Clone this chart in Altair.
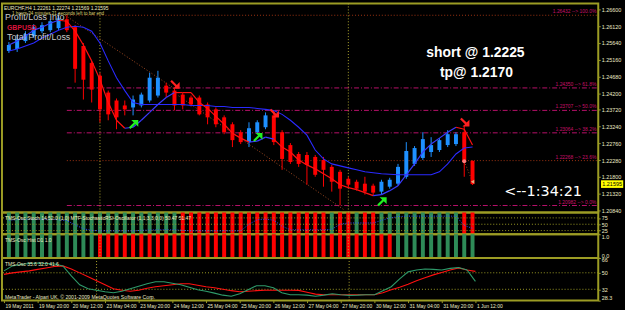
import altair as alt
import pandas as pd

# ------------------------------------------------------------------ data
# H4 bars, index 0 = 19 May 2011 04:00 ... index 56 = 1 Jun 2011 12:00
bar_index = list(range(57))

opens = [1.25409, 1.25466, 1.25692, 1.25834, 1.25976, 1.26005, 1.26061, 1.26317, 1.26090, 1.25551,
         1.25068, 1.24700, 1.24217, 1.23990, 1.23848, 1.23791, 1.23848, 1.23990, 1.24132, 1.24416,
         1.24274, 1.24160, 1.24075, 1.24075, 1.23876, 1.23735, 1.23508, 1.23309, 1.23082, 1.22798,
         1.23082, 1.23224, 1.23564, 1.23082, 1.22713, 1.22458, 1.22429, 1.22373, 1.22287, 1.22089,
         1.21947, 1.21748, 1.21663, 1.21607, 1.21550, 1.21380, 1.21521, 1.21607, 1.21805, 1.22174,
         1.22344, 1.22515, 1.22571, 1.22713, 1.22742, 1.23082, 1.22261]
highs = [1.25664, 1.25863, 1.25976, 1.26175, 1.26232, 1.26317, 1.26430, 1.26430, 1.26147, 1.25636,
         1.25125, 1.24785, 1.24274, 1.24047, 1.23990, 1.24132, 1.24217, 1.24785, 1.24841, 1.24501,
         1.24331, 1.24217, 1.24132, 1.24132, 1.23933, 1.23791, 1.23564, 1.23366, 1.23139, 1.23366,
         1.23423, 1.23649, 1.23706, 1.23139, 1.22770, 1.22515, 1.22515, 1.22429, 1.22373, 1.22145,
         1.22004, 1.21805, 1.21720, 1.21805, 1.21607, 1.21720, 1.21777, 1.22174, 1.22798, 1.22685,
         1.23082, 1.22940, 1.22912, 1.23139, 1.23082, 1.23281, 1.22274]
lows = [1.25352, 1.25380, 1.25636, 1.25778, 1.25920, 1.25948, 1.26005, 1.25948, 1.24501, 1.24018,
        1.23933, 1.23366, 1.23423, 1.23167, 1.23564, 1.23564, 1.23791, 1.23933, 1.24075, 1.24075,
        1.23706, 1.23735, 1.23820, 1.23564, 1.23309, 1.23224, 1.23025, 1.22656, 1.22742, 1.22656,
        1.23025, 1.23167, 1.22713, 1.22004, 1.22174, 1.22089, 1.21578, 1.21805, 1.21521, 1.21380,
        1.20982, 1.21493, 1.21408, 1.21294, 1.21266, 1.21294, 1.21465, 1.21550, 1.21748, 1.22117,
        1.22287, 1.22373, 1.22515, 1.22656, 1.22685, 1.21805, 1.21569]
closes = [1.25579, 1.25749, 1.25891, 1.26090, 1.26147, 1.26260, 1.26345, 1.26005, 1.24898, 1.24586,
          1.24302, 1.23735, 1.23593, 1.23508, 1.23735, 1.24018, 1.24160, 1.24643, 1.24643, 1.24217,
          1.23848, 1.23848, 1.23876, 1.23593, 1.23508, 1.23309, 1.23082, 1.22855, 1.22798, 1.23196,
          1.23366, 1.23564, 1.22798, 1.22316, 1.22230, 1.22174, 1.22145, 1.21862, 1.22004, 1.21663,
          1.21465, 1.21578, 1.21465, 1.21380, 1.21351, 1.21663, 1.21720, 1.22089, 1.22543, 1.22628,
          1.22884, 1.22713, 1.22855, 1.23025, 1.23025, 1.22230, 1.21595]

# slow moving average (blue)
ma_slow = [1.25409, 1.25466, 1.25551, 1.25636, 1.25778, 1.25891, 1.26005, 1.26090, 1.26118, 1.26090,
           1.25976, 1.25636, 1.25125, 1.24643, 1.24274, 1.23933, 1.23876, 1.23876, 1.23876, 1.23876,
           1.23876, 1.23876, 1.23848, 1.23848, 1.23848, 1.23820, 1.23820, 1.23791, 1.23791, 1.23791,
           1.23763, 1.23735, 1.23706, 1.23593, 1.23423, 1.23224, 1.22997, 1.22571, 1.22316, 1.22174,
           1.22117, 1.22060, 1.22004, 1.21947, 1.21919, 1.21890, 1.21876, 1.21862, 1.21862, 1.21862,
           1.21862, 1.21862, 1.21947, 1.22174, 1.22458, 1.22628, 1.22656]
# fast moving average (coloured by direction)
ma_fast = [1.25579, 1.25692, 1.25834, 1.26005, 1.26090, 1.26203, 1.26289, 1.26260, 1.25976, 1.25579,
           1.25125, 1.24586, 1.23933, 1.23423, 1.23196, 1.23224, 1.23423, 1.23649, 1.23876, 1.24075,
           1.24217, 1.24217, 1.24217, 1.23933, 1.23763, 1.23536, 1.23309, 1.23054, 1.22912, 1.22798,
           1.22827, 1.22940, 1.22884, 1.22656, 1.22515, 1.22287, 1.22145, 1.22032, 1.21890, 1.21748,
           1.21578, 1.21493, 1.21436, 1.21351, 1.21266, 1.21294, 1.21408, 1.21550, 1.21862, 1.22174,
           1.22515, 1.22742, 1.22912, 1.23082, 1.23224, 1.23167, 1.22713]
ma_fast_dir = (["up"] * 7 + ["down"] * 8 + ["up"] * 6 + ["down"] * 9 + ["up"] * 3
               + ["down"] * 12 + ["up"] * 10 + ["down"] * 2)

# signal arrows
arrow_up_bars = [15, 30, 45]
arrow_up_prices = [1.23281, 1.22912, 1.21067]
arrow_dn_bars = [20, 32, 55]
arrow_dn_prices = [1.24473, 1.23649, 1.23394]

# trend lines (start bar, start price, end bar, end price)
trend_x0 = [6.8, 20.5, 55]
trend_p0 = [1.26430, 1.24123, 1.22250]
trend_x1 = [20, 40.5, 56]
trend_p1 = [1.24330, 1.20856, 1.21663]

# fibonacci levels
fib_start_bar = 7
fib_prices = [1.26432, 1.24350, 1.23707, 1.23064, 1.22268, 1.20982]
fib_pcts = ["100.0%", "61.8%", "50.0%", "38.2%", "23.6%", "0.0%"]

# trade markers
trade_open_bar, trade_open_price = 55, 1.22250
trade_close_bar, trade_close_price = 56, 1.21663
current_price = 1.21595

separator_bars = [11, 41]

price_ticks = [1.20840, 1.21320, 1.21800, 1.22280, 1.22760, 1.23240, 1.23720,
               1.24200, 1.24680, 1.25160, 1.25640, 1.26120, 1.26600]
x_label_bars = [0, 4, 8, 12, 16, 20, 24, 28, 32, 36, 40, 44, 48, 52, 56]
x_labels = ["19 May 2011", "19 May 20:00", "20 May 12:00", "23 May 04:00", "23 May 20:00",
            "24 May 12:00", "25 May 04:00", "25 May 20:00", "26 May 12:00", "27 May 04:00",
            "27 May 20:00", "30 May 12:00", "31 May 04:00", "31 May 20:00", "1 Jun 12:00"]

# sub-window 1: stochastic histogram + MTF stoch RSI line
stoch_hist_dir = (["up"] * 21 + ["down"] * 18 + ["up"] + ["down"] * 2 + ["up"]
                  + ["down"] * 2 + ["up"] * 10 + ["down"] * 2)
stoch_hist_value = [100] * 57
stoch_line = [66, 68, 70, 70, 70, 70, 68, 64, 48, 32, 26,
              24, 24, 24, 24, 24, 26, 27, 28, 28, 28, 26, 24, 24, 24, 24, 24, 24, 24,
              50, 68, 70, 66, 42, 28, 28, 28, 28, 28, 30,
              50, 55, 55, 55, 55, 65, 75, 80, 82, 82, 82, 82, 82, 82, 82, 45, 34]
stoch_levels = [25, 50, 75]

# sub-window 2: D1 histogram
d1_hist_dir = ["up"] * 11 + ["down"] * 36 + ["up"] * 10
d1_hist_value = [1] * 57

# sub-window 3: TDI lines
tdi_red = [48.3, 49.9, 51.0, 52.1, 53.7, 55.3, 56.9, 57.5, 54.2, 49.9,
           45.6, 41.3, 36.9, 32.6, 31.0, 29.9, 31.0, 33.2, 34.8, 35.9,
           36.9, 38.0, 38.0, 36.4, 34.8, 33.7, 32.1, 30.5, 29.4, 29.9,
           30.5, 31.0, 31.0, 31.0, 31.0, 30.8, 28.8, 26.7, 26.1, 26.1,
           26.1, 26.1, 26.1, 26.1, 26.1, 28.3, 31.5, 34.2, 37.5, 41.3,
           44.5, 47.7, 50.4, 53.1, 55.3, 53.1, 51.5]
tdi_green = [52.1, 57.5, 59.1, 60.2, 60.7, 60.2, 59.6, 57.5, 46.7, 36.9,
             32.6, 31.0, 29.4, 28.3, 29.9, 32.6, 35.3, 38.0, 40.2, 40.2,
             38.6, 36.9, 34.2, 31.5, 29.9, 27.8, 25.6, 24.5, 27.2, 31.5,
             35.9, 35.9, 33.7, 28.3, 26.1, 26.1, 25.6, 24.5, 25.6, 27.2,
             26.1, 25.4, 25.6, 26.1, 26.1, 30.5, 34.8, 43.4, 51.0, 53.1,
             54.2, 53.7, 53.1, 54.8, 55.8, 53.1, 40.7]
tdi_levels = [32, 50]
tdi_max, tdi_min_label = 66.1, "28.3"

# ------------------------------------------------------------------ layout / style
W = 602
H_MAIN, H_P2, H_P3, H_P4 = 211, 22, 24, 43
FONT = "Liberation Sans"
OLIVE = "#9c9c24"
CREAM = "#ecebc5"
BULL = "#1e90ff"
BEAR = "#ff0000"
GREEN = "#2e8b57"

x_scale = alt.Scale(domain=[-2 / 8.5, (W - 2) / 8.5], nice=False, zero=False)
y_main = alt.Scale(domain=[1.20783, 1.26770], nice=False, zero=False)
y_p2 = alt.Scale(domain=[10.5, 96.5], nice=False, zero=False)
y_p3 = alt.Scale(domain=[0, 1], nice=False)
P4_LO = round(tdi_max - H_P4 / 0.926, 2)
y_p4 = alt.Scale(domain=[P4_LO, tdi_max], nice=False, zero=False)

def yaxis(values, fmt=None, flush=False, expr=None):
    kw = dict(orient="right", values=values, labelFont=FONT, labelFontSize=5.5,
              labelColor=CREAM, tickColor=OLIVE, tickSize=2, labelPadding=1,
              domain=False, grid=False, title=None, labelOverlap=False, labelFlush=flush)
    if fmt:
        kw["format"] = fmt
    if expr:
        kw["labelExpr"] = expr
    return alt.Axis(**kw)

Y_MAIN_AX = yaxis(price_ticks, fmt=".5f")
Y_P2_AX = yaxis(stoch_levels)
Y_P3_AX = yaxis([0, 1], flush=True)
Y_P4_AX = yaxis([P4_LO, 32, 50, tdi_max], flush=True,
                expr=f"datum.value < 25 ? '{tdi_min_label}' : datum.label")

lab_expr = ("[" + ",".join(f"'{s}'" for s in x_labels) + "][indexof(["
            + ",".join(str(b) for b in x_label_bars) + "], datum.value)]")
X_AX = alt.Axis(values=x_label_bars, labelExpr=lab_expr, labelAlign="left", labelFont=FONT,
                labelFontSize=5.0, labelColor=CREAM, tickColor=OLIVE, tickSize=2,
                labelPadding=1, labelOffset=1, domain=False, grid=False, title=None,
                labelOverlap=False, labelFlush=False)

def X(field, axis=None):
    return alt.X(field, type="quantitative", scale=x_scale, axis=axis)

def label(text, x, y, size, color, weight="normal", font=FONT, align="left", baseline="middle"):
    return alt.Chart(pd.DataFrame({"t": [text]})).mark_text(
        align=align, baseline=baseline, fontSize=size, font=font, fontWeight=weight, color=color
    ).encode(x=alt.value(x), y=alt.value(y), text="t:N")

# ------------------------------------------------------------------ main window
df = pd.DataFrame({"i": bar_index, "o": opens, "h": highs, "l": lows, "c": closes,
                   "ma": ma_slow})
candle_color = alt.condition("datum.c >= datum.o", alt.value(BULL), alt.value(BEAR))

def YM(field):
    return alt.Y(field, type="quantitative", scale=y_main, axis=Y_MAIN_AX)

fib_df = pd.DataFrame({"p": fib_prices, "pct": fib_pcts})
fib_df["start"] = fib_start_bar
fib_df["label"] = [f"{p:.5f} --> {q}" for p, q in zip(fib_prices, fib_pcts)]
fib_df["kind"] = ["dot" if q in ("100.0%", "23.6%") else "dashdot" for q in fib_pcts]

fib_dot = alt.Chart(fib_df).transform_filter("datum.kind == 'dot'").mark_rule(
    strokeWidth=1, strokeDash=[1, 2], color="#a03412").encode(
    x=X("start"), x2=alt.value(W), y=YM("p"))
fib_dash = alt.Chart(fib_df).transform_filter("datum.kind == 'dashdot'").mark_rule(
    strokeWidth=1, strokeDash=[5, 2, 1, 2], color="#b8106a").encode(
    x=X("start"), x2=alt.value(W), y=YM("p"))
fib_text = alt.Chart(fib_df).mark_text(align="right", baseline="bottom", dy=-1, fontSize=5,
                                       font=FONT, color="#c8106a").encode(
    x=alt.value(W - 2), y=YM("p"), text="label:N")

sep_df = pd.DataFrame({"i": separator_bars})
def separators(axis=None):
    return alt.Chart(sep_df).mark_rule(strokeDash=[1, 2], color="#b0a830", strokeWidth=1).encode(
        x=X("i", axis))

trend_df = pd.DataFrame({"x0": trend_x0, "p0": trend_p0, "x1": trend_x1, "p1": trend_p1})
trend = alt.Chart(trend_df).mark_rule(strokeDash=[1, 2], color="#a04a22", strokeWidth=1).encode(
    x=X("x0"), x2="x1:Q", y=YM("p0"), y2="p1:Q")

wicks = alt.Chart(df).mark_rule(strokeWidth=1).encode(x=X("i"), y=YM("l"), y2="h:Q",
                                                      color=candle_color)
bodies = alt.Chart(df).mark_bar(width=4).encode(x=X("i"), y=YM("o"), y2="c:Q",
                                                color=candle_color)
slow_line = alt.Chart(df).mark_line(color="#2a2aff", strokeWidth=1.1).encode(x=X("i"),
                                                                            y=YM("ma"))

seg_df = pd.DataFrame({"x0": bar_index[:-1], "x1": bar_index[1:], "p0": ma_fast[:-1],
                       "p1": ma_fast[1:], "d": ma_fast_dir[1:]})
fast_line = alt.Chart(seg_df).mark_rule(strokeWidth=1.2).encode(
    x=X("x0"), x2="x1:Q", y=YM("p0"), y2="p1:Q",
    color=alt.condition("datum.d == 'up'", alt.value("#3a3aff"), alt.value("#ff1010")))

UP_PATH = "M1,-1L1,0.3L0.45,-0.25L-0.5,0.7L-0.8,0.4L0.15,-0.55L-0.35,-1Z"
DN_PATH = "M1,1L1,-0.3L0.45,0.25L-0.5,-0.7L-0.8,-0.4L0.15,0.55L-0.35,1Z"
up_arrows = alt.Chart(pd.DataFrame({"i": arrow_up_bars, "p": arrow_up_prices})).mark_point(
    shape=UP_PATH, filled=True, size=110, color="#22f022", opacity=1, strokeWidth=0).encode(
    x=X("i"), y=YM("p"))
dn_arrows = alt.Chart(pd.DataFrame({"i": arrow_dn_bars, "p": arrow_dn_prices})).mark_point(
    shape=DN_PATH, filled=True, size=110, color="#ff2020", opacity=1, strokeWidth=0).encode(
    x=X("i"), y=YM("p"))

trade_open = alt.Chart(pd.DataFrame({"i": [trade_open_bar], "p": [trade_open_price]})).mark_point(
    shape="circle", filled=True, size=16, color="#ff7a7a", opacity=1).encode(x=X("i"), y=YM("p"))
trade_close = alt.Chart(pd.DataFrame({"i": [trade_close_bar], "p": [trade_close_price]})).mark_point(
    shape="triangle-left", filled=True, size=16, color="#e0b080", opacity=1).encode(x=X("i"), y=YM("p"))

BOX_PATH = "M-1.6,-0.55L1.6,-0.55L1.6,0.55L-1.6,0.55Z"
cp_df = pd.DataFrame({"p": [current_price], "t": [f"{current_price:.5f}"]})
cp_box = alt.Chart(cp_df).mark_point(shape=BOX_PATH, filled=True, size=196, color="#ffff00",
                                     opacity=1, strokeWidth=0).encode(
    x=alt.value(W + 14), y=YM("p"))
cp_text = alt.Chart(cp_df).mark_text(fontSize=5.5, font=FONT, color="#000000").encode(
    x=alt.value(W + 14), y=YM("p"), text="t:N")

main = alt.layer(
    fib_dot, fib_dash, separators(), trend, wicks, bodies, slow_line, fast_line,
    up_arrows, dn_arrows, trade_open, trade_close, fib_text,
    label("EURCHF,H4  1.22261 1.22274 1.21569 1.21595", 2, 5, 5, CREAM),
    label("1 hours 34 minutes 21 seconds left to bar end", 10, 10.5, 4.6, "#d8d070"),
    label("Profit/Loss Info", 3, 17, 9, "#c8c8c8", baseline="alphabetic"),
    label("GBPUSD", 5, 27, 7, "#dc143c", weight="bold", baseline="alphabetic"),
    label("Total Profit/Loss", 5, 37, 9, "#c8c8c8", baseline="alphabetic"),
    label("short @ 1.2225", 478, 50, 14, "#ffffff", weight="bold", align="center"),
    label("tp@ 1.2170", 479, 70, 14, "#ffffff", weight="bold", align="center"),
    label("<--1:34:21", 507, 190, 14.5, "#ffffff", font="DejaVu Sans"),
    cp_box, cp_text,
).properties(width=W, height=H_MAIN)

# ------------------------------------------------------------------ sub window 1
hist_color = alt.condition("datum.d == 'up'", alt.value(GREEN), alt.value(BEAR))
p2_df = pd.DataFrame({"i": bar_index, "v": stoch_hist_value, "d": stoch_hist_dir,
                      "s": stoch_line})
p2 = alt.layer(
    alt.Chart(p2_df).mark_bar(width=4, clip=True).encode(
        x=X("i"), y=alt.Y("v:Q", scale=y_p2, axis=Y_P2_AX), color=hist_color),
    alt.Chart(pd.DataFrame({"v": stoch_levels})).mark_rule(strokeDash=[1, 2], color=OLIVE).encode(
        y=alt.Y("v:Q", scale=y_p2, axis=Y_P2_AX)),
    separators(),
    alt.Chart(p2_df).mark_line(strokeDash=[1, 1.5], color="#3050ff", strokeWidth=1).encode(
        x=X("i"), y=alt.Y("s:Q", scale=y_p2, axis=Y_P2_AX)),
    label("TMS-Osc Stoch 14,52.0 (1.0)  MTF-StochasticRSI-Oscillator (1,1,3,3,0,0) 50.47 51.47",
          3, 6, 5, CREAM),
).properties(width=W, height=H_P2)

# ------------------------------------------------------------------ sub window 2
p3_df = pd.DataFrame({"i": bar_index, "v": d1_hist_value, "d": d1_hist_dir})
p3 = alt.layer(
    alt.Chart(p3_df).mark_bar(width=4).encode(
        x=X("i"), y=alt.Y("v:Q", scale=y_p3, axis=Y_P3_AX), color=hist_color),
    separators(),
    label("TMS-Osc Hist D1 1.0", 3, 6, 5, CREAM),
).properties(width=W, height=H_P3)

# ------------------------------------------------------------------ sub window 3
p4_df = pd.DataFrame({"i": bar_index, "r": tdi_red, "g": tdi_green})
p4 = alt.layer(
    alt.Chart(pd.DataFrame({"v": tdi_levels})).mark_rule(strokeDash=[1, 2], color=OLIVE).encode(
        y=alt.Y("v:Q", scale=y_p4, axis=Y_P4_AX)),
    separators(X_AX),
    alt.Chart(p4_df).mark_line(color="#ff1010", strokeWidth=1.1).encode(
        x=X("i", X_AX), y=alt.Y("r:Q", scale=y_p4, axis=Y_P4_AX)),
    alt.Chart(p4_df).mark_line(color="#2e9a6a", strokeWidth=1.1).encode(
        x=X("i", X_AX), y=alt.Y("g:Q", scale=y_p4, axis=Y_P4_AX)),
    label("TMS-Osc 35.6 32.0 41.6", 3, 6, 5, CREAM),
    label("MetaTrader - Alpari UK, \u00a9 2001-2009 MetaQuotes Software Corp.", 3, 39.5, 5.2, CREAM),
).properties(width=W, height=H_P4)

chart = alt.vconcat(main, p2, p3, p4, spacing=0, bounds="flush", padding=0,
                    background="#000000").configure_view(stroke=OLIVE, strokeWidth=2)

chart.save("out.html", embed_options={"renderer": "svg", "actions": False})
